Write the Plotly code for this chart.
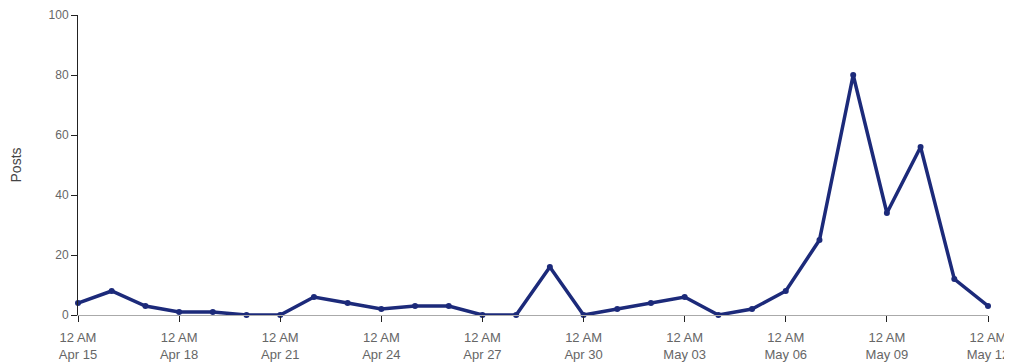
import plotly.graph_objects as go
import pandas as pd

dates = pd.date_range("2024-04-15", "2024-05-12", freq="D")
posts = [4, 8, 3, 1, 1, 0, 0, 6, 4, 2, 3, 3, 0, 0, 16, 0, 2, 4, 6, 0, 2, 8, 25, 80, 34, 56, 12, 3]
y_ticks = [0, 20, 40, 60, 80, 100]

fig = go.Figure()
fig.add_trace(go.Scatter(
    x=dates, y=posts, mode="lines+markers",
    line=dict(color="#1c2a7a", width=3.5),
    marker=dict(color="#1c2a7a", size=6),
    showlegend=False,
    cliponaxis=False,
))

# page body has an 8px margin, so the figure is sized to fit the window
fig.update_layout(
    width=1004, height=354,
    margin=dict(l=70, r=24, t=7, b=47, autoexpand=False),
    paper_bgcolor="white", plot_bgcolor="white",
    font=dict(family="Liberation Sans, Arial, sans-serif", size=12, color="#555"),
    xaxis=dict(
        range=[dates[0], dates[-1]], automargin=False,
        tickmode="linear", tick0=dates[0], dtick=3 * 86400000,
        tickformat="%I %p<br>%b %d",
        showgrid=False, zeroline=False,
        showline=True, linecolor="#aaaaaa", linewidth=1,
        ticks="outside", ticklen=6, tickcolor="#222", tickwidth=1,
        ticklabelstandoff=4,
        tickfont=dict(size=13, color="#666"),
    ),
    yaxis=dict(
        range=[0, 100], tickvals=y_ticks, automargin=False,
        showgrid=False, zeroline=False,
        showline=True, linecolor="#222", linewidth=1,
        ticks="outside", ticklen=6, tickcolor="#222",
        tickfont=dict(size=12, color="#666"),
        title=dict(text="Posts", font=dict(size=14, color="#444"), standoff=26),
    ),
)

fig.write_html("out.html")
